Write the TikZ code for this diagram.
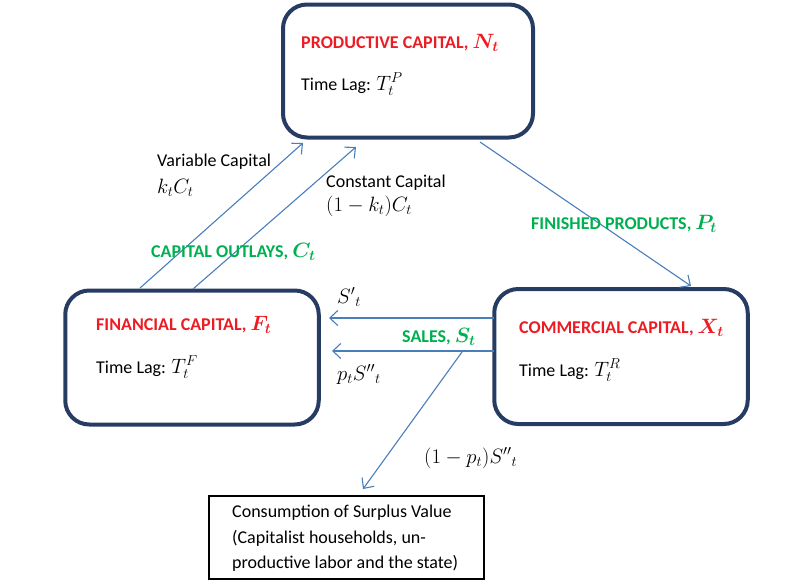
\documentclass[tikz,border=0pt]{standalone}
\usepackage{amsmath}
\usepackage{fontspec}
\setmainfont{Carlito}
\DeclareMathSizes{18}{20.5}{15}{12}
\usetikzlibrary{arrows.meta}
\definecolor{boxblue}{RGB}{38,60,98}
\definecolor{arrblue}{RGB}{74,126,187}
\definecolor{tred}{RGB}{237,28,36}
\definecolor{tgreen}{RGB}{0,176,80}
\begin{document}
\begin{tikzpicture}[x=1pt,y=-1pt,
  capbox/.style={draw=boxblue,line width=4pt,rounded corners=24pt,inner sep=0pt},
  plainbox/.style={draw=black,line width=1.2pt,inner sep=0pt},
  flow/.style={draw=arrblue,line width=1.1pt,-{Straight Barb[length=8pt,width=15pt,line width=1.1pt]}},
  lbl/.style={anchor=base west,inner sep=0pt,font=\fontsize{18}{22}\selectfont},
  rtitle/.style={lbl,text=tred,font=\fontsize{18}{22}\selectfont\bfseries\boldmath},
  gtitle/.style={lbl,text=tgreen,font=\fontsize{18}{22}\selectfont\bfseries\boldmath},
]
\useasboundingbox (0,0) rectangle (812,584);
% boxes
\node[capbox,minimum width=250pt,minimum height=133pt] (P) at (408,71) {};
\node[capbox,minimum width=253.5pt,minimum height=134pt] (F) at (192,357.5) {};
\node[capbox,minimum width=253.5pt,minimum height=135pt] (X) at (621,356.5) {};
\node[plainbox,minimum width=275pt,minimum height=83pt] (C) at (346.5,537.5) {};
% box texts
\node[rtitle] (Pt) at (301,48) {PRODUCTIVE CAPITAL, $N_t$};
\node[lbl] (Pl) at (301,90) {Time Lag: $T_t^P$};
\node[rtitle] (Ft) at (96,330) {FINANCIAL CAPITAL, $F_t$};
\node[lbl] (Fl) at (96,373) {Time Lag: $T_t^F$};
\node[rtitle] (Xt) at (519,333) {COMMERCIAL CAPITAL, $X_t$};
\node[lbl] (Xl) at (519,376) {Time Lag: $T_t^R$};
\node[lbl] (C1) at (232,517) {Consumption of Surplus Value};
\node[lbl] (C2) at (232,543) {(Capitalist households, un-};
\node[lbl] (C3) at (232,568) {productive labor and the state)};
% connector end points
\coordinate (v0) at (140,288);
\coordinate (v1) at (303,143);
\coordinate (k0) at (193,289);
\coordinate (k1) at (356,147);
\coordinate (f0) at (480,142);
\coordinate (f1) at (691,286);
\coordinate (s0) at (494,318);
\coordinate (s1) at (329,318);
\coordinate (q0) at (494,351);
\coordinate (q1) at (332,351);
\coordinate (r0) at (462,352);
\coordinate (r1) at (363,489);
% connectors
\draw[flow] (v0) -- (v1);
\draw[flow] (k0) -- (k1);
\draw[flow] (f0) -- (f1);
\draw[flow] (s0) -- (s1);
\draw[flow] (q0) -- (q1);
\draw[flow] (r0) -- (r1);
% connector labels
\node[lbl] (vl1) at (157,166) {Variable Capital};
\node[lbl] (vl2) at (157,193) {$k_tC_t$};
\node[lbl] (kl1) at (326,187) {Constant Capital};
\node[lbl] (kl2) at (326,211) {$(1-k_t)C_t$};
\node[gtitle] (co) at (151,257) {CAPITAL OUTLAYS, $C_t$};
\node[gtitle] (fp) at (531,229) {FINISHED PRODUCTS, $P_t$};
\node[lbl] (sp) at (337,303) {$S'{}_t$};
\node[gtitle] (sa) at (402,342) {SALES, $S_t$};
\node[lbl] (ps) at (337,380) {$p_tS''{}_t$};
\node[lbl] (rs) at (424,463) {$(1-p_t)S''{}_t$};
\end{tikzpicture}
\end{document}
